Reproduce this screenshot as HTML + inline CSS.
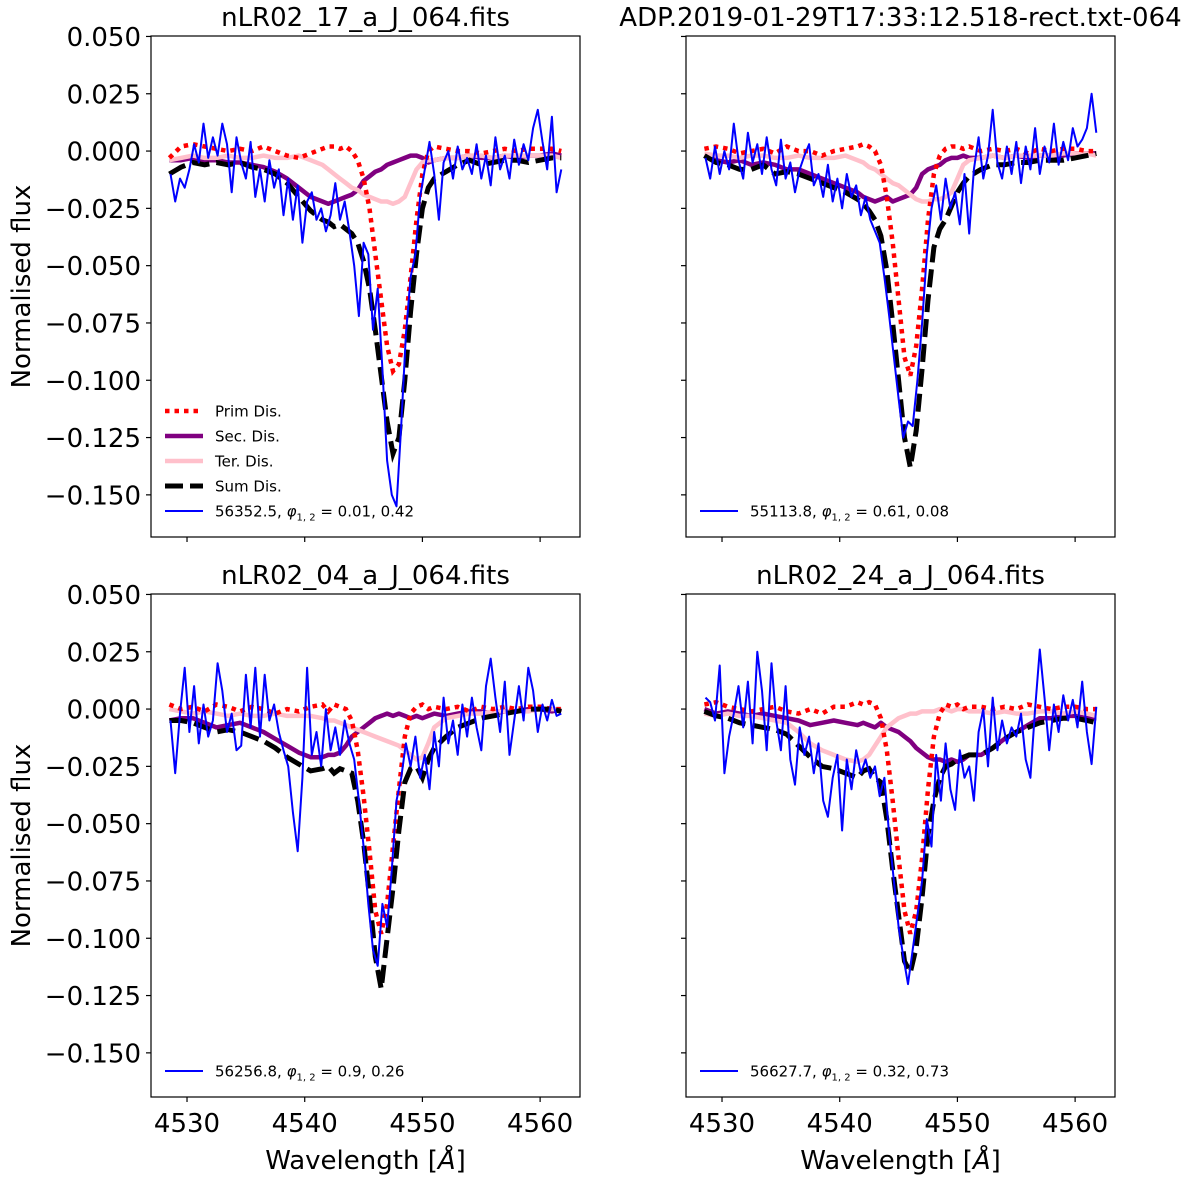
<!DOCTYPE html>
<html><head><meta charset="utf-8"><title>Disentangled spectra</title>
<style>
body{margin:0;background:#fff;}
svg{display:block;font-family:"DejaVu Sans","Liberation Sans",sans-serif;}
</style></head>
<body>
<svg id="fig" width="1200" height="1179" viewBox="0 0 1200 1179" xmlns="http://www.w3.org/2000/svg"></svg>
<script>
// ---- data ----
const modelWl = [4528.5,4529.5,4530.5,4531.5,4532.5,4533.5,4534.5,4535.5,4536.5,4537.5,4538.5,4539.5,4540.5,4541.5,4542,4542.5,4543,4543.5,4544,4544.5,4545,4545.5,4546,4546.5,4547,4547.5,4548,4548.5,4549,4549.5,4550,4550.5,4551,4552,4553,4554,4555,4556,4557,4558,4559,4560,4561,4561.8];
const obsStart = 4528.6;
const obsEnd = 4561.8;
const xTicks = [4530,4540,4550,4560];
const yTicks = [0.05,0.025,0,-0.025,-0.05,-0.075,-0.1,-0.125,-0.15];
const yTickLabels = ["0.050","0.025","0.000","\u22120.025","\u22120.050","\u22120.075","\u22120.100","\u22120.125","\u22120.150"];
const titles = ["nLR02_17_a_J_064.fits","ADP.2019-01-29T17:33:12.518-rect.txt-064","nLR02_04_a_J_064.fits","nLR02_24_a_J_064.fits"];
const obsLabels = [["56352.5","0.01, 0.42"],["55113.8","0.61, 0.08"],["56256.8","0.9, 0.26"],["56627.7","0.32, 0.73"]];

const prim1 = [-0.003,0.002,0.003,0.002,0.001,0.000,0.001,0.000,0.002,0.000,-0.002,-0.003,-0.001,0.001,0.002,0.002,0.001,0.002,0.000,-0.004,-0.012,-0.025,-0.045,-0.065,-0.085,-0.096,-0.093,-0.078,-0.055,-0.030,-0.010,0.000,0.002,0.001,0.000,0.000,-0.001,0.000,0.001,0.000,0.001,0.001,0.001,0.000];
const sec1 = [-0.004,-0.004,-0.003,-0.004,-0.004,-0.005,-0.005,-0.006,-0.007,-0.009,-0.012,-0.016,-0.020,-0.022,-0.023,-0.022,-0.021,-0.020,-0.019,-0.017,-0.013,-0.011,-0.009,-0.008,-0.006,-0.005,-0.004,-0.003,-0.002,-0.002,-0.003,-0.005,-0.004,-0.003,-0.003,-0.002,-0.003,-0.003,-0.002,-0.003,-0.002,-0.002,-0.001,-0.002];
const ter1 = [-0.004,-0.003,-0.002,-0.003,-0.003,-0.002,-0.003,-0.003,-0.002,-0.003,-0.003,-0.002,-0.004,-0.006,-0.008,-0.010,-0.012,-0.014,-0.016,-0.017,-0.019,-0.020,-0.021,-0.022,-0.022,-0.023,-0.022,-0.020,-0.014,-0.008,-0.005,-0.004,-0.004,-0.003,-0.003,-0.002,-0.002,-0.003,-0.002,-0.002,-0.002,-0.002,-0.002,-0.003];
const sum1 = [-0.010,-0.007,-0.005,-0.006,-0.005,-0.006,-0.005,-0.007,-0.008,-0.010,-0.014,-0.020,-0.026,-0.030,-0.031,-0.033,-0.032,-0.034,-0.036,-0.040,-0.048,-0.060,-0.078,-0.098,-0.118,-0.132,-0.125,-0.100,-0.070,-0.045,-0.025,-0.016,-0.012,-0.009,-0.006,-0.004,-0.006,-0.005,-0.004,-0.004,-0.005,-0.004,-0.003,-0.003];
const obs1 = [-0.010,-0.022,-0.012,-0.016,-0.008,0.003,-0.005,0.012,-0.003,0.006,-0.002,0.012,0.003,-0.018,0.006,-0.005,-0.012,0.004,-0.020,-0.008,-0.022,-0.004,-0.016,-0.008,-0.028,-0.012,-0.030,-0.015,-0.040,-0.022,-0.018,-0.030,-0.025,-0.035,-0.028,-0.014,-0.030,-0.022,-0.035,-0.050,-0.072,-0.040,-0.045,-0.078,-0.060,-0.095,-0.135,-0.150,-0.155,-0.120,-0.080,-0.055,-0.045,-0.020,-0.008,0.004,-0.010,-0.030,-0.005,0.000,-0.012,0.002,-0.008,-0.003,-0.010,0.003,-0.012,-0.002,-0.015,0.006,-0.008,-0.002,-0.012,0.005,-0.006,0.003,-0.004,0.010,0.018,0.004,-0.008,0.015,-0.018,-0.008];

const prim2 = [0.001,0.002,0.001,-0.001,0.000,0.001,-0.001,0.002,0.000,0.000,-0.002,0.000,0.001,0.002,0.003,0.002,0.000,-0.006,-0.020,-0.040,-0.065,-0.090,-0.098,-0.085,-0.060,-0.030,-0.010,-0.002,0.001,0.002,0.002,0.001,0.002,0.000,0.001,0.000,0.001,-0.001,0.001,0.000,0.001,0.001,0.000,0.000];
const sec2 = [-0.002,-0.004,-0.005,-0.004,-0.006,-0.005,-0.006,-0.008,-0.008,-0.010,-0.012,-0.014,-0.016,-0.018,-0.020,-0.021,-0.022,-0.021,-0.020,-0.022,-0.021,-0.020,-0.019,-0.016,-0.010,-0.008,-0.007,-0.006,-0.004,-0.003,-0.003,-0.002,-0.003,-0.003,-0.002,-0.003,-0.002,-0.003,-0.002,-0.002,-0.002,-0.001,-0.001,-0.001];
const ter2 = [-0.001,-0.002,-0.002,-0.003,-0.002,-0.002,-0.003,-0.003,-0.002,-0.003,-0.003,-0.003,-0.002,-0.004,-0.005,-0.007,-0.008,-0.010,-0.012,-0.014,-0.015,-0.017,-0.019,-0.021,-0.022,-0.022,-0.021,-0.021,-0.020,-0.018,-0.012,-0.006,-0.004,-0.003,-0.002,-0.003,-0.002,-0.002,-0.002,-0.002,-0.001,-0.001,-0.001,-0.002];
const sum2 = [-0.002,-0.005,-0.006,-0.008,-0.008,-0.006,-0.010,-0.009,-0.010,-0.012,-0.014,-0.016,-0.018,-0.021,-0.023,-0.026,-0.030,-0.037,-0.052,-0.075,-0.100,-0.125,-0.138,-0.122,-0.095,-0.065,-0.042,-0.034,-0.030,-0.024,-0.018,-0.014,-0.011,-0.008,-0.006,-0.006,-0.005,-0.005,-0.004,-0.004,-0.004,-0.003,-0.002,-0.001];
const obs2 = [-0.003,-0.012,0.002,-0.010,0.000,-0.008,0.012,-0.004,-0.012,0.008,-0.005,0.003,-0.010,0.006,-0.008,-0.015,0.005,-0.012,-0.005,-0.018,-0.008,-0.002,0.003,-0.015,-0.010,-0.020,-0.006,-0.022,-0.012,-0.025,-0.010,-0.020,-0.015,-0.028,-0.020,-0.030,-0.035,-0.040,-0.055,-0.072,-0.090,-0.108,-0.125,-0.118,-0.120,-0.100,-0.075,-0.045,-0.025,-0.015,-0.030,-0.012,-0.025,-0.018,-0.032,-0.010,-0.036,-0.008,0.006,-0.012,-0.002,0.018,-0.005,-0.012,0.002,-0.010,0.004,-0.014,0.002,-0.008,0.010,-0.010,0.002,-0.005,0.012,-0.006,0.004,-0.004,0.010,0.002,0.005,0.010,0.025,0.008];

const prim3 = [0.002,0.000,0.001,-0.001,0.002,0.001,-0.001,0.001,0.000,-0.002,0.000,-0.001,0.001,0.002,-0.001,0.002,0.001,0.000,-0.005,-0.018,-0.038,-0.062,-0.088,-0.098,-0.085,-0.060,-0.035,-0.012,-0.002,0.001,0.002,0.000,0.001,0.000,0.001,-0.001,0.001,0.000,0.001,0.000,0.001,0.001,0.000,0.000];
const sec3 = [-0.005,-0.004,-0.004,-0.006,-0.008,-0.007,-0.006,-0.008,-0.010,-0.013,-0.016,-0.019,-0.021,-0.021,-0.020,-0.020,-0.019,-0.016,-0.012,-0.010,-0.008,-0.006,-0.004,-0.003,-0.002,-0.003,-0.002,-0.003,-0.004,-0.003,-0.004,-0.003,-0.002,-0.003,-0.002,-0.001,-0.001,-0.002,-0.001,-0.001,0.000,0.000,-0.001,0.000];
const ter3 = [0.000,-0.001,-0.002,-0.001,-0.002,-0.003,-0.002,-0.003,-0.003,-0.002,-0.003,-0.003,-0.003,-0.004,-0.005,-0.005,-0.006,-0.007,-0.008,-0.009,-0.010,-0.011,-0.012,-0.013,-0.014,-0.015,-0.016,-0.018,-0.020,-0.022,-0.021,-0.015,-0.008,-0.004,-0.003,-0.002,-0.002,-0.001,-0.001,-0.001,-0.001,0.000,0.000,0.000];
const sum3 = [-0.005,-0.005,-0.006,-0.008,-0.010,-0.009,-0.010,-0.012,-0.014,-0.017,-0.021,-0.024,-0.027,-0.026,-0.025,-0.028,-0.026,-0.027,-0.028,-0.040,-0.058,-0.082,-0.108,-0.122,-0.100,-0.078,-0.053,-0.032,-0.026,-0.025,-0.030,-0.022,-0.017,-0.012,-0.008,-0.006,-0.004,-0.003,-0.002,-0.001,0.000,0.000,0.000,-0.001];
const obs3 = [-0.005,-0.028,-0.002,0.018,-0.010,0.010,-0.015,0.002,-0.012,-0.005,0.020,0.008,-0.010,-0.002,-0.018,-0.016,0.015,-0.008,0.018,-0.012,0.015,-0.005,0.002,-0.010,-0.018,-0.025,-0.045,-0.062,-0.030,0.018,-0.020,-0.010,-0.025,0.000,-0.018,-0.008,-0.020,-0.005,-0.015,-0.022,-0.040,-0.060,-0.085,-0.105,-0.112,-0.085,-0.095,-0.070,-0.040,-0.030,-0.015,-0.025,-0.012,-0.030,-0.020,-0.035,-0.010,-0.025,0.005,-0.015,-0.005,-0.020,0.002,-0.012,0.005,-0.008,-0.018,0.010,0.022,0.005,-0.010,0.012,-0.020,-0.005,0.010,-0.005,0.018,0.008,-0.010,0.002,-0.005,0.004,-0.003,-0.002];

const prim4 = [0.002,0.003,0.001,0.000,-0.001,0.000,0.001,-0.001,-0.002,0.000,-0.002,0.001,0.001,0.003,0.002,0.003,0.002,-0.004,-0.018,-0.040,-0.065,-0.088,-0.098,-0.088,-0.065,-0.035,-0.012,-0.002,0.002,0.001,0.002,0.000,0.001,0.001,0.000,0.001,0.000,0.002,0.001,0.000,0.001,0.001,0.000,0.000];
const sec4 = [0.000,-0.002,-0.001,-0.002,-0.003,-0.002,-0.003,-0.004,-0.005,-0.007,-0.006,-0.005,-0.006,-0.007,-0.006,-0.007,-0.008,-0.006,-0.008,-0.009,-0.010,-0.012,-0.014,-0.017,-0.019,-0.021,-0.022,-0.022,-0.023,-0.022,-0.023,-0.022,-0.020,-0.020,-0.017,-0.013,-0.010,-0.007,-0.004,-0.004,-0.003,-0.003,-0.004,-0.004];
const ter4 = [-0.002,-0.003,-0.002,-0.003,-0.003,-0.004,-0.005,-0.006,-0.010,-0.015,-0.018,-0.020,-0.022,-0.023,-0.022,-0.020,-0.016,-0.012,-0.008,-0.006,-0.004,-0.003,-0.002,-0.002,-0.001,-0.001,-0.001,0.000,0.000,-0.001,0.000,0.000,-0.001,-0.001,-0.002,-0.001,-0.002,-0.002,-0.001,-0.001,-0.002,-0.001,-0.002,-0.003];
const sum4 = [-0.001,-0.003,-0.004,-0.006,-0.007,-0.008,-0.009,-0.011,-0.016,-0.021,-0.025,-0.026,-0.028,-0.030,-0.027,-0.026,-0.030,-0.032,-0.048,-0.070,-0.090,-0.110,-0.115,-0.104,-0.082,-0.055,-0.040,-0.030,-0.025,-0.024,-0.022,-0.021,-0.020,-0.020,-0.017,-0.013,-0.010,-0.008,-0.006,-0.005,-0.004,-0.004,-0.005,-0.006];
const obs4 = [0.005,0.003,-0.005,0.019,-0.028,-0.012,-0.002,0.010,-0.008,0.012,-0.015,0.025,0.008,-0.018,0.020,-0.005,-0.018,0.010,-0.022,-0.033,-0.008,-0.020,-0.012,-0.028,-0.015,-0.040,-0.047,-0.030,-0.020,-0.053,-0.022,-0.035,-0.018,-0.028,-0.022,-0.030,-0.025,-0.038,-0.030,-0.055,-0.075,-0.095,-0.108,-0.120,-0.105,-0.090,-0.075,-0.048,-0.060,-0.020,-0.040,-0.015,-0.035,-0.044,-0.018,-0.030,-0.025,-0.040,-0.010,0.000,-0.025,0.005,-0.018,-0.005,-0.015,-0.008,-0.012,-0.002,-0.022,-0.030,0.000,0.026,0.005,-0.018,0.002,-0.010,0.006,-0.005,0.004,-0.008,0.012,-0.010,-0.024,0.001];

// ---- layout ----
const NS = "http://www.w3.org/2000/svg";
const svg = document.getElementById('fig');
const XMIN = 4526.94, PXPERA = 11.77, YMAX = 0.0502, PXPERU = 2292;
const panels = [
  {x0:151,x1:580,y0:36,y1:537,prim:prim1,sec:sec1,ter:ter1,sum:sum1,obs:obs1,ylab:true,xlab:false,full:true},
  {x0:686,x1:1115,y0:36,y1:537,prim:prim2,sec:sec2,ter:ter2,sum:sum2,obs:obs2,ylab:false,xlab:false,full:false},
  {x0:151,x1:580,y0:594,y1:1097,prim:prim3,sec:sec3,ter:ter3,sum:sum3,obs:obs3,ylab:true,xlab:true,full:false},
  {x0:686,x1:1115,y0:594,y1:1097,prim:prim4,sec:sec4,ter:ter4,sum:sum4,obs:obs4,ylab:false,xlab:true,full:false}
];
function el(tag, attrs, parent){
  const e = document.createElementNS(NS, tag);
  for (const k in attrs) e.setAttribute(k, attrs[k]);
  (parent||svg).appendChild(e);
  return e;
}
function pathFrom(xs, ys, sx, sy){
  let d = '';
  for (let i=0;i<ys.length && i<xs.length;i++){ d += (i?'L':'M') + sx(xs[i]).toFixed(1) + ',' + sy(ys[i]).toFixed(1); }
  return d;
}
const styles = {
  sec:{stroke:'#800080','stroke-width':4.5,fill:'none','stroke-linejoin':'round'},
  ter:{stroke:'#ffc0cb','stroke-width':4.5,fill:'none','stroke-linejoin':'round'},
  prim:{stroke:'#ff0000','stroke-width':4.5,fill:'none','stroke-dasharray':'4.5 5'},
  sum:{stroke:'#000000','stroke-width':5,fill:'none','stroke-dasharray':'18 7'},
  obs:{stroke:'#0000ff','stroke-width':2,fill:'none','stroke-linejoin':'round'}
};
panels.forEach((p, pi) => {
  const g = el('g', {});
  
  
  const sx = v => p.x0 + (v - XMIN) * PXPERA;
  const sy = v => p.y0 + (YMAX - v) * PXPERU;
  const clipId = 'clip' + pi;
  const cp = el('clipPath', {id:clipId}, g);
  el('rect', {x:p.x0, y:p.y0, width:p.x1-p.x0, height:p.y1-p.y0}, cp);
  const obsWl = p.obs.map((_, i) => obsStart + i * (obsEnd - obsStart) / (p.obs.length - 1));
  const lines = el('g', {'clip-path':'url(#'+clipId+')'}, g);
  ['sec','ter','prim','sum','obs'].forEach(k => {
    const xs = k === 'obs' ? obsWl : modelWl;
    const path = el('path', Object.assign({d: pathFrom(xs, p[k], sx, sy)}, styles[k]), lines);
    
    
  });
  const frame = el('rect', {x:p.x0, y:p.y0, width:p.x1-p.x0, height:p.y1-p.y0, fill:'none', stroke:'#000', 'stroke-width':1.2}, g);
  
  
  yTicks.forEach((t, i) => {
    const y = sy(t);
    el('line', {x1:p.x0-5, x2:p.x0, y1:y, y2:y, stroke:'#000', 'stroke-width':1.2}, g);
    if (p.ylab) {
      const tx = el('text', {x:p.x0-10, y:y+9.5, 'text-anchor':'end', 'font-size':26, fill:'#000'}, g);
      tx.textContent = yTickLabels[i];
      
      
    }
  });
  xTicks.forEach(t => {
    const x = sx(t);
    el('line', {x1:x, x2:x, y1:p.y1, y2:p.y1+5, stroke:'#000', 'stroke-width':1.2}, g);
    if (p.xlab) {
      const tx = el('text', {x:x, y:p.y1+35, 'text-anchor':'middle', 'font-size':26, fill:'#000'}, g);
      tx.textContent = t;
      
      
    }
  });
  const tt = el('text', {x:(p.x0+p.x1)/2, y:p.y0-10, 'text-anchor':'middle', 'font-size':26, fill:'#000'}, g);
  tt.textContent = titles[pi];
  
  
  if (p.ylab) {
    const yl = el('text', {x:0, y:0, 'text-anchor':'middle', 'font-size':26, fill:'#000', transform:'translate(30,'+((p.y0+p.y1)/2)+') rotate(-90)'}, g);
    yl.textContent = 'Normalised flux';
    
    
  }
  if (p.xlab) {
    const xl = el('text', {x:(p.x0+p.x1)/2, y:p.y1+72, 'text-anchor':'middle', 'font-size':26, fill:'#000'}, g);
    xl.innerHTML = 'Wavelength [<tspan font-style="italic">Å</tspan>]';
    
    
  }
  const lg = el('g', {}, g);
  
  
  const entries = [];
  if (p.full) {
    entries.push(['prim','Prim Dis.'],['sec','Sec. Dis.'],['ter','Ter. Dis.'],['sum','Sum Dis.']);
  }
  entries.push(['obs', null]);
  const baseY = p.y1 - 26;
  entries.forEach((e, i) => {
    const y = baseY - (entries.length - 1 - i) * 25;
    const st = Object.assign({}, styles[e[0]]);
    el('line', Object.assign({x1:p.x0+14, x2:p.x0+52, y1:y, y2:y}, st), lg);
    const tx = el('text', {x:p.x0+64, y:y+5.5, 'font-size':15, fill:'#000'}, lg);
    if (e[1]) tx.textContent = e[1];
    else tx.innerHTML = obsLabels[pi][0] + ', <tspan font-style="italic">φ</tspan><tspan font-size="10" dy="4">1, 2</tspan><tspan dy="-4"> = ' + obsLabels[pi][1] + '</tspan>';
    
    
  });
});
</script>
</body></html>
